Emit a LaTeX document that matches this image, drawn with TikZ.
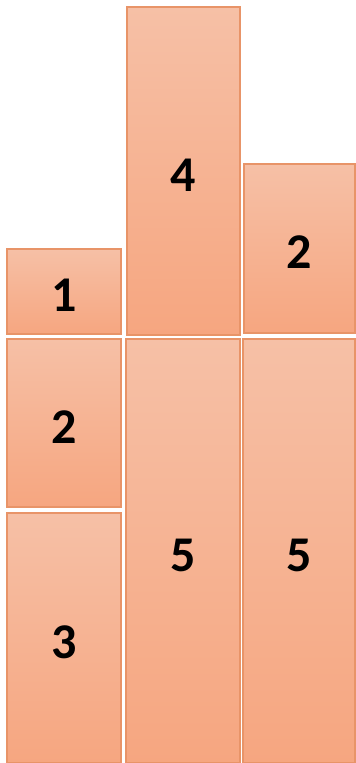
\documentclass[tikz,border=0pt]{standalone}
\usepackage{fontspec}
\setmainfont{Carlito}
\definecolor{boxtop}{RGB}{246,192,166}
\definecolor{boxbot}{RGB}{246,166,128}
\definecolor{boxline}{RGB}{232,148,104}
\begin{document}
\begin{tikzpicture}[x=1pt,y=-1pt,
  blk/.style={draw=boxline,line width=1.2pt,top color=boxtop,bottom color=boxbot},
  lbl/.style={font=\fontsize{50}{50}\selectfont\bfseries,text=black,yshift=-4pt}]
\useasboundingbox[fill=white] (0,0) rectangle (356,763);
\draw[blk] (7,249) rectangle node[lbl] (b1) {1} (121,334);
\draw[blk] (7,339) rectangle node[lbl] (b2) {2} (121,507);
\draw[blk] (7,513) rectangle node[lbl] (b3) {3} (121,763);
\draw[blk] (127,7) rectangle node[lbl] (b4) {4} (240,335);
\draw[blk] (126,339) rectangle node[lbl] (b5) {5} (240,763);
\draw[blk] (244,164) rectangle node[lbl] (b6) {2} (355,333);
\draw[blk] (243,339) rectangle node[lbl] (b7) {5} (355,763);
\end{tikzpicture}
\end{document}
